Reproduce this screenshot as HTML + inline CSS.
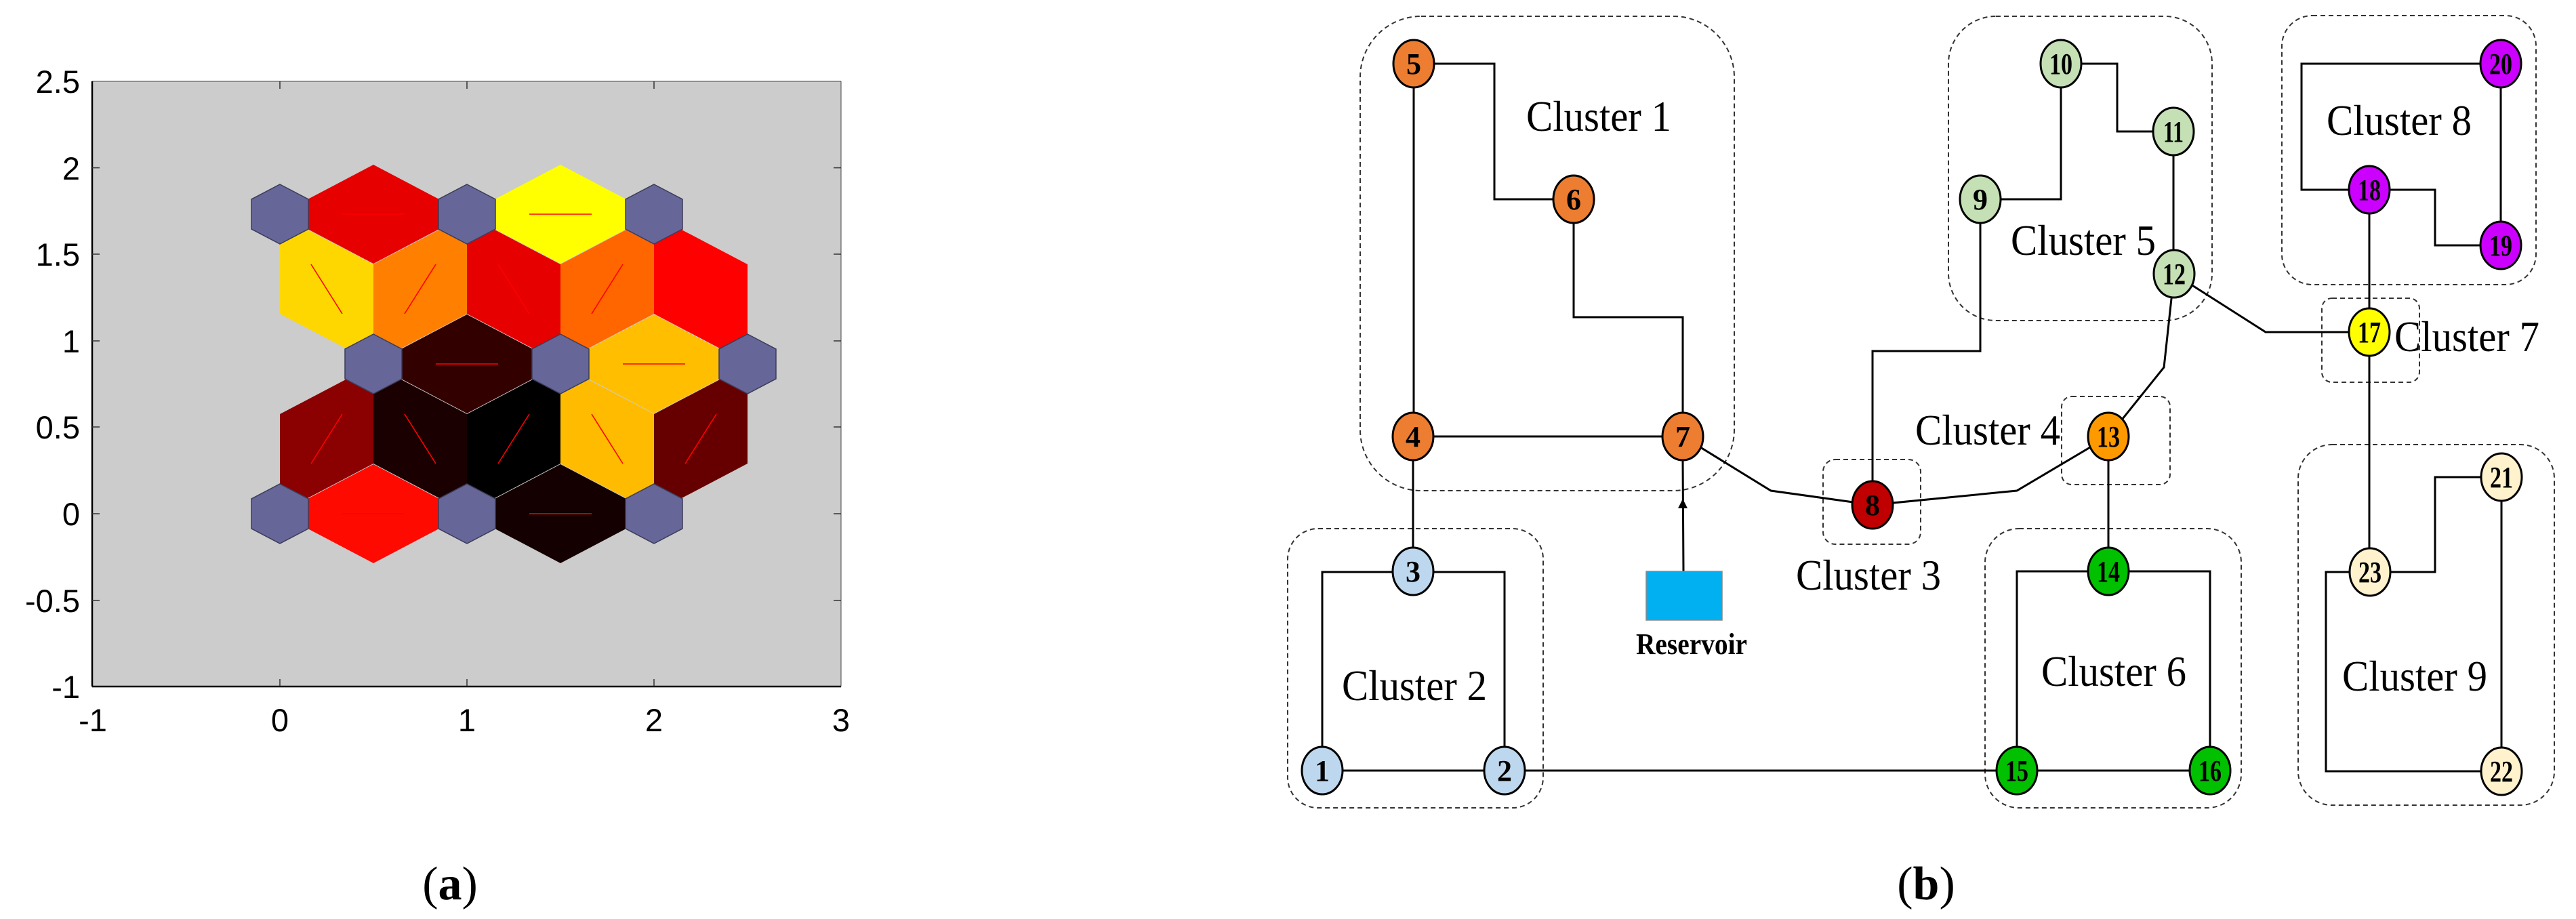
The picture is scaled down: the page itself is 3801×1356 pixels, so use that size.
<!DOCTYPE html>
<html><head><meta charset="utf-8"><style>
html,body{margin:0;padding:0;background:#fff;}
svg{display:block;}
</style></head><body>
<svg width="3801" height="1356" viewBox="0 0 3801 1356" xmlns="http://www.w3.org/2000/svg">
<rect width="3801" height="1356" fill="#fff"/>
<!-- ============ (a) ============ -->
<rect x="136" y="120" width="1105" height="893" fill="#cccccc"/>
<g id="cells">
<!-- diagonal cells row 1.299 -->
<polygon points="413,317.5 551,390 551,535.5 413,463" fill="#ffd700"/>
<polygon points="551,390 689,317.5 689,463 551,535.5" fill="#ff7f00"/>
<polygon points="689,317.5 827,390 827,535.5 689,463" fill="#e60000"/>
<polygon points="827,390 965,317.5 965,463 827,535.5" fill="#ff6600"/>
<polygon points="965,317.5 1103,390 1103,535.5 965,463" fill="#ff0000"/>
<!-- diagonal cells row 0.433 -->
<polygon points="413,611 551,538.5 551,684 413,756.5" fill="#8b0000"/>
<polygon points="551,538.5 689,611 689,756.5 551,684" fill="#1a0000"/>
<polygon points="689,611 827,538.5 827,684 689,756.5" fill="#000000"/>
<polygon points="827,538.5 965,611 965,756.5 827,684" fill="#ffbb00"/>
<polygon points="965,611 1103,538.5 1103,684 965,756.5" fill="#660000"/>
</g>
<g>
<!-- horizontal cells -->
<polygon points="551,243 647,293.5 647,338.5 551,389 455,338.5 455,293.5" fill="#e60000"/>
<polygon points="827,243 923,293.5 923,338.5 827,389 731,338.5 731,293.5" fill="#ffff00"/>
<polygon points="689,464 785,514.5 785,559.5 689,610 593,559.5 593,514.5" fill="#330000"/>
<polygon points="965,464 1061,514.5 1061,559.5 965,610 869,559.5 869,514.5" fill="#ffbf00"/>
<polygon points="551,685 647,735.5 647,780.5 551,831 455,780.5 455,735.5" fill="#ff0a00"/>
<polygon points="827,685 923,735.5 923,780.5 827,831 731,780.5 731,735.5" fill="#140000"/>
</g>
<g stroke="#ff0000" stroke-width="1.6">
<line x1="505" y1="316" x2="597" y2="316"/>
<line x1="781" y1="316" x2="873" y2="316"/>
<line x1="643" y1="537" x2="735" y2="537"/>
<line x1="919" y1="537" x2="1011" y2="537"/>
<line x1="505" y1="758" x2="597" y2="758"/>
<line x1="781" y1="758" x2="873" y2="758"/>
<line x1="459" y1="390" x2="505" y2="463"/>
<line x1="597" y1="463" x2="643" y2="390"/>
<line x1="735" y1="390" x2="781" y2="463"/>
<line x1="873" y1="463" x2="919" y2="390"/>
<line x1="459" y1="684" x2="505" y2="611"/>
<line x1="597" y1="611" x2="643" y2="684"/>
<line x1="735" y1="684" x2="781" y2="611"/>
<line x1="873" y1="611" x2="919" y2="684"/>
<line x1="1011" y1="684" x2="1057" y2="611"/>
</g>
<g fill="#666699" stroke="#3c3c5a" stroke-width="1.5">
<polygon points="413,272 455,294 455,338 413,360 371,338 371,294"/>
<polygon points="689,272 731,294 731,338 689,360 647,338 647,294"/>
<polygon points="965,272 1007,294 1007,338 965,360 923,338 923,294"/>
<polygon points="551,493 593,515 593,559 551,581 509,559 509,515"/>
<polygon points="827,493 869,515 869,559 827,581 785,559 785,515"/>
<polygon points="1103,493 1145,515 1145,559 1103,581 1061,559 1061,515"/>
<polygon points="413,714 455,736 455,780 413,802 371,780 371,736"/>
<polygon points="689,714 731,736 731,780 689,802 647,780 647,736"/>
<polygon points="965,714 1007,736 1007,780 965,802 923,780 923,736"/>
</g>
<!-- axes frame -->
<line x1="136" y1="120" x2="1241" y2="120" stroke="#444" stroke-width="1"/>
<line x1="1241" y1="120" x2="1241" y2="1013" stroke="#444" stroke-width="1"/>
<line x1="136" y1="120" x2="136" y2="1013" stroke="#000" stroke-width="2.5"/>
<line x1="136" y1="1013" x2="1241" y2="1013" stroke="#000" stroke-width="2.5"/>
<g stroke="#333" stroke-width="1.5">
<line x1="413" y1="1013" x2="413" y2="1002"/><line x1="689" y1="1013" x2="689" y2="1002"/><line x1="965" y1="1013" x2="965" y2="1002"/>
<line x1="413" y1="120" x2="413" y2="131"/><line x1="689" y1="120" x2="689" y2="131"/><line x1="965" y1="120" x2="965" y2="131"/>
<line x1="136" y1="247.6" x2="147" y2="247.6"/><line x1="136" y1="375" x2="147" y2="375"/><line x1="136" y1="503" x2="147" y2="503"/><line x1="136" y1="630" x2="147" y2="630"/><line x1="136" y1="758" x2="147" y2="758"/><line x1="136" y1="886" x2="147" y2="886"/>
<line x1="1241" y1="247.6" x2="1230" y2="247.6"/><line x1="1241" y1="375" x2="1230" y2="375"/><line x1="1241" y1="503" x2="1230" y2="503"/><line x1="1241" y1="630" x2="1230" y2="630"/><line x1="1241" y1="758" x2="1230" y2="758"/><line x1="1241" y1="886" x2="1230" y2="886"/>
</g>
<g font-family="Liberation Sans, Arial, sans-serif" font-size="47" fill="#000" text-anchor="end">
<text x="118" y="137">2.5</text><text x="118" y="265">2</text><text x="118" y="392">1.5</text><text x="118" y="520">1</text><text x="118" y="647">0.5</text><text x="118" y="775">0</text><text x="118" y="903">-0.5</text><text x="118" y="1030">-1</text>
</g>
<g font-family="Liberation Sans, Arial, sans-serif" font-size="47" fill="#000" text-anchor="middle">
<text x="137" y="1079">-1</text><text x="413" y="1079">0</text><text x="689" y="1079">1</text><text x="965" y="1079">2</text><text x="1241" y="1079">3</text>
</g>
<text x="664" y="1327" font-family="Liberation Serif, serif" font-size="70" text-anchor="middle">(<tspan font-weight="bold">a</tspan>)</text>

<!-- ============ (b) ============ -->
<g fill="none" stroke="#333" stroke-width="2" stroke-dasharray="7 5">
<rect x="2007" y="24" width="552" height="700" rx="90"/>
<rect x="1900" y="780" width="377" height="412" rx="45"/>
<rect x="2690" y="678" width="144" height="125" rx="18"/>
<rect x="3042" y="585" width="160" height="130" rx="15"/>
<rect x="2875" y="24" width="389" height="449" rx="70"/>
<rect x="2929" y="780" width="378" height="412" rx="50"/>
<rect x="3426" y="440" width="144" height="124" rx="15"/>
<rect x="3367" y="23" width="375" height="397" rx="45"/>
<rect x="3391" y="656" width="378" height="532" rx="50"/>
</g>
<g fill="none" stroke="#000" stroke-width="3">
<path d="M2086 94 V644"/>
<path d="M2086 94 H2205 V294 H2322"/>
<path d="M2322 294 V468 H2483 V644"/>
<path d="M2085 644 H2483"/>
<path d="M2085 644 V843"/>
<path d="M1951 1137 V844 H2220 V1137"/>
<path d="M1951 1137 H3261"/>
<path d="M2483 644 L2613 724 L2763 745"/>
<path d="M2763 745 L2976 724 L3111 644"/>
<path d="M2763 745 V518 H2922 V294"/>
<path d="M2922 294 H3041 V94"/>
<path d="M3041 94 H3124 V194 H3207 V404"/>
<path d="M3208 404 L3193 542 L3111 644"/>
<path d="M3208 404 L3343 490 H3496"/>
<path d="M3111 644 V843"/>
<path d="M2976 1137 V843 H3261 V1137"/>
<path d="M3496 280 V844"/>
<path d="M3496 280 H3396 V94 H3690"/>
<path d="M3496 280 H3593 V362 H3690"/>
<path d="M3690 94 V362"/>
<path d="M3497 844 H3593 V704 H3691"/>
<path d="M3497 844 H3432 V1138 H3691"/>
<path d="M3691 704 V1138"/>
<path d="M2484 843 L2483 680"/>
</g>
<polygon points="2483,736 2476,750 2490,750" fill="#000"/>
<rect x="2429" y="843" width="112" height="72" fill="#00b0f0" stroke="#888" stroke-width="1.5"/>
<text x="2496" y="965" font-family="Liberation Serif, serif" font-weight="bold" font-size="44" text-anchor="middle" textLength="164" lengthAdjust="spacingAndGlyphs">Reservoir</text>

<g stroke="#000" stroke-width="3">
<ellipse cx="1951" cy="1137" rx="30" ry="35" fill="#bdd7ee"/>
<ellipse cx="2220" cy="1137" rx="30" ry="35" fill="#bdd7ee"/>
<ellipse cx="2085" cy="843" rx="30" ry="35" fill="#bdd7ee"/>
<ellipse cx="2085" cy="644" rx="30" ry="35" fill="#ed7d31"/>
<ellipse cx="2086" cy="94" rx="30" ry="35" fill="#ed7d31"/>
<ellipse cx="2322" cy="294" rx="30" ry="35" fill="#ed7d31"/>
<ellipse cx="2483" cy="644" rx="30" ry="35" fill="#ed7d31"/>
<ellipse cx="2763" cy="745" rx="30" ry="35" fill="#c00000"/>
<ellipse cx="2922" cy="294" rx="30" ry="35" fill="#c5e0b4"/>
<ellipse cx="3041" cy="94" rx="30" ry="35" fill="#c5e0b4"/>
<ellipse cx="3207" cy="194" rx="30" ry="35" fill="#c5e0b4"/>
<ellipse cx="3208" cy="404" rx="30" ry="35" fill="#c5e0b4"/>
<ellipse cx="3111" cy="644" rx="30" ry="35" fill="#ff9900"/>
<ellipse cx="3111" cy="843" rx="30" ry="35" fill="#00c000"/>
<ellipse cx="2976" cy="1137" rx="30" ry="35" fill="#00c000"/>
<ellipse cx="3261" cy="1137" rx="30" ry="35" fill="#00c000"/>
<ellipse cx="3496" cy="490" rx="30" ry="35" fill="#ffff00"/>
<ellipse cx="3496" cy="280" rx="30" ry="35" fill="#cc00ff"/>
<ellipse cx="3690" cy="362" rx="30" ry="35" fill="#cc00ff"/>
<ellipse cx="3690" cy="94" rx="30" ry="35" fill="#cc00ff"/>
<ellipse cx="3691" cy="704" rx="30" ry="35" fill="#fff2cc"/>
<ellipse cx="3691" cy="1138" rx="30" ry="35" fill="#fff2cc"/>
<ellipse cx="3497" cy="844" rx="30" ry="35" fill="#fff2cc"/>
</g>
<g font-family="Liberation Serif, serif" font-weight="bold" font-size="44" text-anchor="middle" fill="#000">
<text x="1951" y="1152">1</text>
<text x="2220" y="1152">2</text>
<text x="2085" y="858">3</text>
<text x="2085" y="659">4</text>
<text x="2086" y="109">5</text>
<text x="2322" y="309">6</text>
<text x="2483" y="659">7</text>
<text x="2763" y="760">8</text>
<text x="2922" y="309">9</text>
<text x="3041" y="109" textLength="34" lengthAdjust="spacingAndGlyphs">10</text>
<text x="3207" y="209" textLength="30" lengthAdjust="spacingAndGlyphs">11</text>
<text x="3208" y="419" textLength="34" lengthAdjust="spacingAndGlyphs">12</text>
<text x="3111" y="659" textLength="34" lengthAdjust="spacingAndGlyphs">13</text>
<text x="3111" y="858" textLength="34" lengthAdjust="spacingAndGlyphs">14</text>
<text x="2976" y="1152" textLength="34" lengthAdjust="spacingAndGlyphs">15</text>
<text x="3261" y="1152" textLength="34" lengthAdjust="spacingAndGlyphs">16</text>
<text x="3496" y="505" textLength="34" lengthAdjust="spacingAndGlyphs">17</text>
<text x="3496" y="295" textLength="34" lengthAdjust="spacingAndGlyphs">18</text>
<text x="3690" y="377" textLength="34" lengthAdjust="spacingAndGlyphs">19</text>
<text x="3690" y="109" textLength="34" lengthAdjust="spacingAndGlyphs">20</text>
<text x="3691" y="719" textLength="34" lengthAdjust="spacingAndGlyphs">21</text>
<text x="3691" y="1153" textLength="34" lengthAdjust="spacingAndGlyphs">22</text>
<text x="3497" y="859" textLength="34" lengthAdjust="spacingAndGlyphs">23</text>
</g>
<g font-family="Liberation Serif, serif" font-size="64" text-anchor="middle" fill="#000">
<text x="2359" y="193" textLength="214" lengthAdjust="spacingAndGlyphs">Cluster 1</text>
<text x="2087" y="1033" textLength="214" lengthAdjust="spacingAndGlyphs">Cluster 2</text>
<text x="2757" y="870" textLength="214" lengthAdjust="spacingAndGlyphs">Cluster 3</text>
<text x="2933" y="656" textLength="214" lengthAdjust="spacingAndGlyphs">Cluster 4</text>
<text x="3074" y="376" textLength="214" lengthAdjust="spacingAndGlyphs">Cluster 5</text>
<text x="3119" y="1012" textLength="214" lengthAdjust="spacingAndGlyphs">Cluster 6</text>
<text x="3640" y="518" textLength="214" lengthAdjust="spacingAndGlyphs">Cluster 7</text>
<text x="3540" y="199" textLength="214" lengthAdjust="spacingAndGlyphs">Cluster 8</text>
<text x="3563" y="1019" textLength="214" lengthAdjust="spacingAndGlyphs">Cluster 9</text>
</g>
<text x="2842" y="1327" font-family="Liberation Serif, serif" font-size="70" text-anchor="middle">(<tspan font-weight="bold">b</tspan>)</text>
</svg>
</body></html>
